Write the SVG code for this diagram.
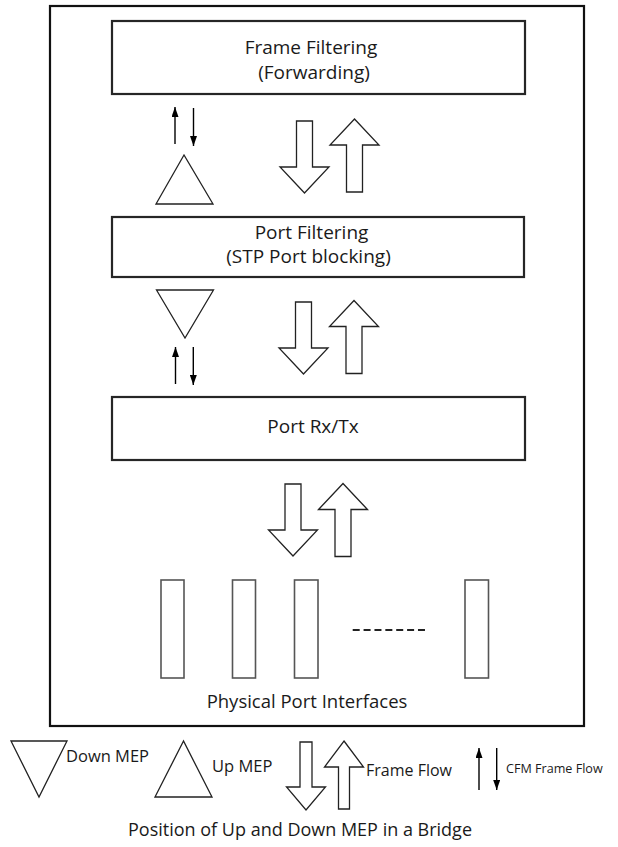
<svg xmlns="http://www.w3.org/2000/svg" width="618" height="847" viewBox="0 0 618 847">
<defs>
<style>
.box{fill:#fff;stroke:#262626;stroke-width:2.2}
.outer{fill:none;stroke:#111;stroke-width:2.2}
.port{fill:#fff;stroke:#555;stroke-width:1.6}
.hol{fill:#fff;stroke:#222;stroke-width:1.3;stroke-linejoin:miter}
.cfm{stroke:#000;stroke-width:1.4;fill:none}
.t{font-family:"Open Sans","Liberation Sans",sans-serif;fill:#1a1a1a;text-anchor:middle}
.tl{font-family:"Open Sans","Liberation Sans",sans-serif;fill:#1a1a1a}
</style>
<marker id="ah" viewBox="0 0 10 7" refX="10" refY="3.5" markerWidth="10" markerHeight="7" markerUnits="userSpaceOnUse" orient="auto">
<path d="M0,0 L10,3.5 L0,7 Z" fill="#000"/>
</marker>
<path id="dn" d="M-8,-72 L8,-72 L8,-26 L24.5,-26 L0,0 L-24.5,-26 L-8,-26 Z"/>
<path id="up" d="M0,0 L24.5,26 L8,26 L8,73 L-8,73 L-8,26 L-24.5,26 Z"/>
<path id="dnS" d="M-6,-68 L6,-68 L6,-23 L19.5,-23 L0,0 L-19.5,-23 L-6,-23 Z"/>
<path id="upS" d="M0,0 L19.5,26 L5.5,26 L5.5,68 L-5.5,68 L-5.5,26 L-19.5,26 Z"/>
</defs>

<g id="bridge">
<rect class="outer" x="50" y="6" width="534" height="720"/>
</g>

<g id="frame-filtering">
<rect class="box" x="112" y="21" width="413" height="73"/>
<text class="t" x="311" y="54" font-size="19">Frame Filtering</text>
<text class="t" x="314" y="79" font-size="19">(Forwarding)</text>
</g>

<g id="port-filtering">
<rect class="box" x="112" y="217" width="412" height="60"/>
<text class="t" x="311.5" y="239" font-size="19">Port Filtering</text>
<text class="t" x="308.5" y="263" font-size="19">(STP Port blocking)</text>
</g>

<g id="port-rxtx">
<rect class="box" x="112" y="397" width="413" height="63"/>
<text class="t" x="313" y="433" font-size="19">Port Rx/Tx</text>
</g>

<g id="up-mep">
<polygon class="hol" points="184,155 156,204 213,204"/>
</g>

<g id="down-mep">
<polygon class="hol" points="156.5,290 213.5,290 185,338"/>
</g>

<g id="physical-ports">
<rect class="port" x="161" y="580" width="23" height="98"/>
<rect class="port" x="232.5" y="580" width="23" height="98"/>
<rect class="port" x="294.5" y="580" width="23.5" height="98"/>
<rect class="port" x="465" y="580" width="23.5" height="98"/>
<line x1="352.7" y1="630" x2="425" y2="630" stroke="#222" stroke-width="2" stroke-dasharray="7 3.88"/>
<text class="t" x="307" y="708" font-size="18.5">Physical Port Interfaces</text>
</g>

<g id="connectors">
<line class="cfm" x1="175" y1="144" x2="175" y2="107" marker-end="url(#ah)"/>
<line class="cfm" x1="193.5" y1="108" x2="193.5" y2="146" marker-end="url(#ah)"/>
<line class="cfm" x1="175.5" y1="384" x2="175.5" y2="347" marker-end="url(#ah)"/>
<line class="cfm" x1="193.3" y1="347" x2="193.3" y2="385" marker-end="url(#ah)"/>
<use href="#dn" class="hol" x="304.5" y="193"/>
<use href="#up" class="hol" x="354.5" y="119"/>
<use href="#dn" class="hol" x="303.5" y="374"/>
<use href="#up" class="hol" x="354" y="300.5"/>
<use href="#dn" class="hol" x="293" y="556"/>
<use href="#up" class="hol" x="343" y="483.5"/>
</g>

<g id="legend">
<polygon class="hol" points="11,741 67,741 39,797"/>
<text class="tl" x="66" y="762" font-size="16.5">Down MEP</text>
<polygon class="hol" points="183.5,741 155,797 212,797"/>
<text class="tl" x="212" y="772" font-size="16.5">Up MEP</text>
<use href="#dnS" class="hol" x="306" y="810"/>
<use href="#upS" class="hol" x="344" y="741"/>
<text class="tl" x="366" y="776" font-size="16">Frame Flow</text>
<line class="cfm" x1="479" y1="790" x2="479" y2="748" marker-end="url(#ah)"/>
<line class="cfm" x1="496.7" y1="748" x2="496.7" y2="790" marker-end="url(#ah)"/>
<text class="tl" x="506" y="773" font-size="12.6">CFM Frame Flow</text>
<text class="t" x="300" y="836" font-size="18">Position of Up and Down MEP in a Bridge</text>
</g>
</svg>
